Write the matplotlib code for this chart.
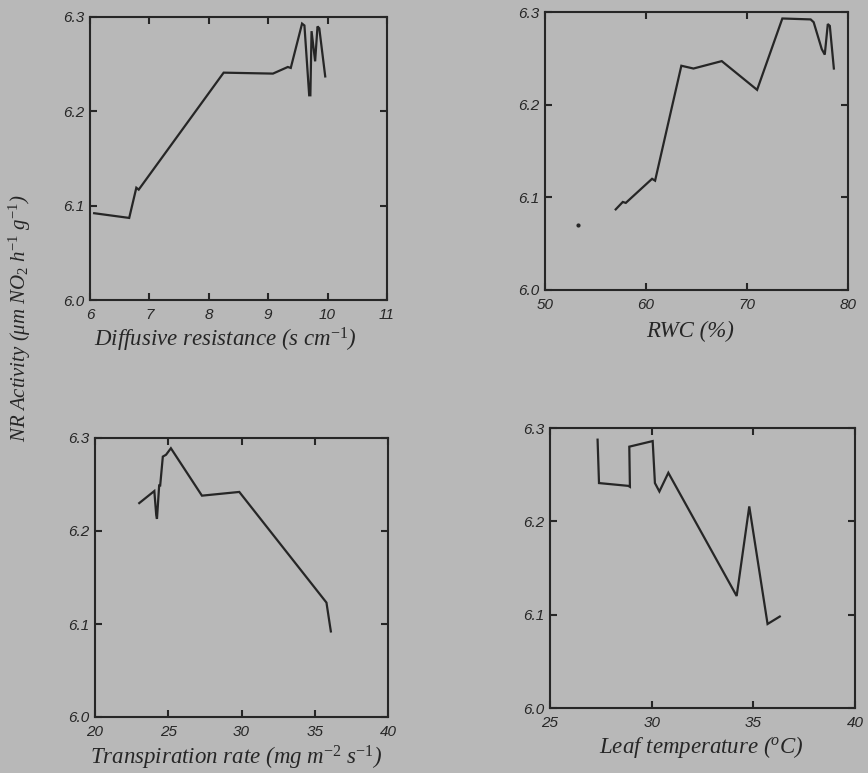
import matplotlib
matplotlib.use("Agg")
import matplotlib.pyplot as plt

plt.rcParams['mathtext.fontset'] = 'custom'
plt.rcParams['mathtext.rm'] = 'Liberation Serif'
plt.rcParams['mathtext.it'] = 'Liberation Serif:italic'

# ---- data ----
dr_x = [6.07, 6.66, 6.78, 6.82, 8.25, 9.08, 9.33, 9.38, 9.57, 9.61, 9.69, 9.71, 9.73, 9.79, 9.83, 9.86, 9.96]
dr_y = [6.092, 6.087, 6.119, 6.117, 6.241, 6.240, 6.247, 6.246, 6.293, 6.291, 6.217, 6.217, 6.285, 6.253, 6.290, 6.288, 6.237]

rwc_x = [57.0, 57.7, 58.0, 60.6, 60.9, 63.5, 64.7, 67.5, 71.0, 73.5, 76.3, 76.6, 77.4, 77.7, 78.0, 78.2, 78.6]
rwc_y = [6.087, 6.095, 6.094, 6.120, 6.118, 6.242, 6.239, 6.247, 6.216, 6.293, 6.292, 6.289, 6.260, 6.254, 6.287, 6.285, 6.239]
rwc_dot_x = [53.3]
rwc_dot_y = [6.070]

tr_x = [23.02, 24.05, 24.18, 24.23, 24.38, 24.45, 24.63, 24.85, 25.18, 27.3, 29.85, 35.8, 36.05, 36.1]
tr_y = [6.230, 6.243, 6.217, 6.213, 6.249, 6.249, 6.280, 6.282, 6.289, 6.238, 6.242, 6.123, 6.097, 6.092]

lt_x = [27.34, 27.41, 28.85, 28.93, 28.90, 30.05, 30.16, 30.38, 30.82, 34.18, 34.80, 35.70, 36.30]
lt_y = [6.2875, 6.241, 6.238, 6.237, 6.280, 6.286, 6.241, 6.232, 6.252, 6.120, 6.216, 6.090, 6.098]

xlabels = ["Diffusive resistance (s cm$^{-1}$)", "RWC (%)",
           "Transpiration rate (mg m$^{-2}$ s$^{-1}$)", "Leaf temperature ($^{o}$C)"]
xlims = [(6, 11), (50, 80), (20, 40), (25, 40)]
xticks = [[6, 7, 8, 9, 10, 11], [50, 60, 70, 80], [20, 25, 30, 35, 40], [25, 30, 35, 40]]
yticks = [6.0, 6.1, 6.2, 6.3]
ylabel = "NR Activity (\u03bcm NO$_{2}$ h$^{-1}$ g$^{-1}$)"

W, H = 868, 773
bg = '#b8b8b8'
ink = '#262626'

fig = plt.figure(figsize=(W / 100, H / 100), dpi=100, facecolor=bg)

# pixel boxes: left, top, right, bottom
boxes = [(90, 17, 387, 300), (545, 12, 848, 290), (95, 438, 388, 717), (550, 428, 855, 708)]
label_pos = [(225, 340), (690, 331), (236, 758), (701, 747)]
series = [(dr_x, dr_y), (rwc_x, rwc_y), (tr_x, tr_y), (lt_x, lt_y)]

for i, (l, t, r, b) in enumerate(boxes):
    ax = fig.add_axes([l / W, 1 - b / H, (r - l) / W, (b - t) / H])
    ax.set_facecolor(bg)
    x, y = series[i]
    ax.plot(x, y, color=ink, lw=1.6, solid_joinstyle='miter')
    if i == 1:
        ax.plot(rwc_dot_x, rwc_dot_y, 'o', color=ink, ms=2)
    ax.set_xlim(*xlims[i])
    ax.set_ylim(6.0, 6.3)
    ax.set_xticks(xticks[i])
    ax.set_yticks(yticks)
    ax.set_xticklabels([str(v) for v in xticks[i]])
    ax.set_yticklabels([f"{v:.1f}" for v in yticks])
    ax.tick_params(direction='in', top=True, right=True, length=5, width=1.5,
                   color=ink, labelcolor=ink, labelsize=11)
    ax.tick_params(axis='x', pad=6)
    ax.tick_params(axis='y', pad=4)
    for lab in ax.get_xticklabels() + ax.get_yticklabels():
        lab.set_fontfamily('Liberation Sans')
        lab.set_fontstyle('italic')
    for s in ax.spines.values():
        s.set_linewidth(1.5)
        s.set_color(ink)
    px, py = label_pos[i]
    fig.text(px / W, 1 - py / H, xlabels[i], ha='center', va='center',
             fontsize=16.5, fontfamily='Liberation Serif', fontstyle='italic', color=ink)

fig.text(20 / W, 1 - 318 / H, ylabel, rotation=90, ha='center', va='center',
         fontsize=15, fontfamily='Liberation Serif', fontstyle='italic', color=ink)

fig.savefig('out.png', dpi=100, facecolor=bg)
